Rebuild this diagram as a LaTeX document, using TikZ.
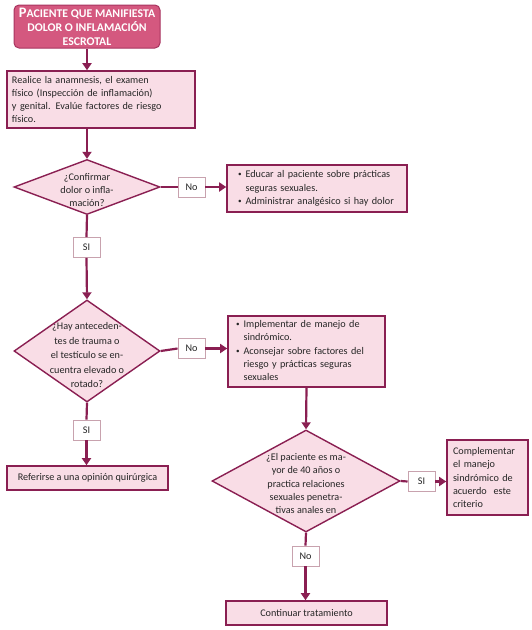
\documentclass[tikz,border=0pt]{standalone}
\usepackage{fontspec}
\setmainfont{Carlito}
\usetikzlibrary{arrows.meta}
\usetikzlibrary{shapes.geometric}
\tikzset{>={Triangle[length=7pt,width=9pt]}}
\definecolor{titlefill}{HTML}{D4587F}
\definecolor{titleline}{HTML}{A8345F}
\definecolor{lightfill}{HTML}{F9DDE6}
\definecolor{boxline}{HTML}{8A1F52}
\definecolor{lblline}{HTML}{C8A2AE}
\newcommand{\bul}{\raisebox{1pt}{\scalebox{.7}{\textbullet}}}

\begin{document}
\begin{tikzpicture}[x=1pt, y=-1pt,
    txt/.style={font=\fontsize{10.2}{13.3}\selectfont, text=black!85},
    start/.style={draw=titleline, fill=titlefill, line width=1pt, rounded corners=5pt,
      text=white, align=center, font=\bfseries\fontsize{11.8}{14}\selectfont, inner sep=0pt},
    box/.style={txt, draw=boxline, fill=lightfill, line width=1.6pt, align=left,
      inner xsep=5pt, inner ysep=2pt},
    dia/.style={diamond, draw=boxline, fill=lightfill, line width=1.4pt, inner sep=0pt},
    diatext/.style={txt, align=center, inner sep=0pt},
    lbl/.style={txt, draw=lblline, fill=white, line width=.9pt, minimum width=27pt,
      minimum height=20pt, inner sep=1pt},
    link/.style={draw=boxline, line width=2.2pt}]
  \useasboundingbox (0,0) rectangle (532,630);
  % nodes
  \node[start, minimum width=146pt, minimum height=43pt] (inicio) at (87,26.5)
    {{\fontsize{14.5}{14}\selectfont P}ACIENTE QUE MANIFIESTA\\DOLOR O INFLAMACIÓN\\ESCROTAL};
  \node[box, text width=178pt, minimum height=57pt] (anamnesis) at (101,99.5)
    {Realice la anamnesis, el examen\\físico (Inspección de inflamación)\\y genital. Evalúe factores de riesgo\\físico.};
  \node[dia, minimum width=146pt, minimum height=55pt] (confirmar) at (87,187) {};
  \node[diatext] (confirmartxt) at (87,190) {¿Confirmar\\dolor o infla-\\mación?};
  \node[lbl] (no1) at (191.5,187) {No};
  \node[box, inner xsep=11pt, text width=158pt, minimum height=47pt] (educar) at (317,188.5)
    {\begin{tabular}{@{}l@{\hspace{4pt}}l@{}}
      \bul & Educar al paciente sobre prácticas\\
           & seguras sexuales.\\
      \bul & Administrar analgésico si hay dolor
    \end{tabular}};
  \node[lbl] (si1) at (86.5,247.5) {SI};
  \node[dia, minimum width=146pt, minimum height=102pt] (trauma) at (87,351) {};
  \node[diatext, font=\fontsize{10.2}{14.5}\selectfont] (traumatxt) at (87,355)
    {¿Hay anteceden-\\tes de trauma o\\el testículo se en-\\cuentra elevado o\\rotado?};
  \node[lbl] (no2) at (191.5,348.5) {No};
  \node[box, inner xsep=8pt, text width=141pt, minimum height=71pt] (manejo) at (306.5,351.5)
    {\begin{tabular}{@{}l@{\hspace{4pt}}l@{}}
      \bul & Implementar de manejo de\\
           & sindrómico.\\
      \bul & Aconsejar sobre factores del\\
           & riesgo y prácticas seguras\\
           & sexuales
    \end{tabular}};
  \node[lbl] (si2) at (86.5,430) {SI};
  \node[box, align=center, minimum width=161pt, minimum height=24pt] (referir) at (87.5,478)
    {Referirse a una opinión quirúrgica};
  \node[dia, minimum width=188pt, minimum height=102pt] (edad) at (306,481) {};
  \node[diatext] (edadtxt) at (306,483.5)
    {¿El paciente es ma-\\yor de 40 años o\\practica relaciones\\sexuales penetra-\\tivas anales en};
  \node[lbl] (si3) at (421.5,481.5) {SI};
  \node[box, inner xsep=6pt, text width=69pt, minimum height=75pt] (complementar) at (487.5,477.5)
    {Complementar\\el manejo\\sindrómico de\\acuerdo~ este\\criterio};
  \node[lbl] (no3) at (305.5,556) {No};
  \node[box, align=center, minimum width=161pt, minimum height=24pt] (continuar) at (306.5,613)
    {Continuar tratamiento};
  % lines
  \draw[link, ->] (inicio.south) -- (inicio.south |- anamnesis.north);
  \draw[link, ->] (confirmar.north |- anamnesis.south) -- (confirmar.north);
  \draw[link] (confirmar.east) -- (no1.west);
  \draw[link, ->] (no1.east) -- (educar.west |- no1.east);
  \draw[link] (confirmar.south) -- (si1.north);
  \draw[link, ->] (si1.south) -- (trauma.north);
  \draw[link] (trauma.east) -- (no2.west);
  \draw[link, ->] (no2.east) -- (manejo.west |- no2.east);
  \draw[link] (trauma.south) -- (si2.north);
  \draw[link, ->] (si2.south) -- (referir.north -| si2.south);
  \draw[link, ->] (manejo.south) -- (edad.north);
  \draw[link] (edad.east) -- (si3.west);
  \draw[link, ->] (si3.east) -- (complementar.west |- si3.east);
  \draw[link] (edad.south) -- (no3.north);
  \draw[link, ->] (no3.south) -- (continuar.north -| no3.south);
\end{tikzpicture}
\end{document}
